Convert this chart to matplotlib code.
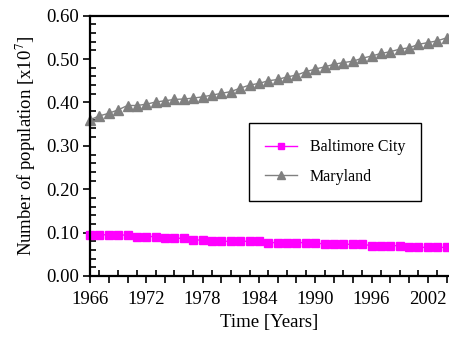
import matplotlib
matplotlib.use("Agg")
import matplotlib.pyplot as plt
import numpy as np
from matplotlib.ticker import MultipleLocator, FuncFormatter

plt.rcParams['font.family'] = ['Liberation Serif', 'DejaVu Serif']
plt.rcParams['mathtext.fontset'] = 'stix'

# Years 1966 .. 2004
years = np.arange(1966, 2005)

# Population in units of 10^7
baltimore = [0.095, 0.095, 0.095, 0.095, 0.094,
             0.091, 0.091, 0.091,
             0.087, 0.087, 0.087,
             0.083, 0.083,
             0.080, 0.080, 0.080, 0.080, 0.080, 0.080,
             0.077, 0.077, 0.077, 0.077, 0.077, 0.077,
             0.073, 0.073, 0.073, 0.073, 0.073,
             0.070, 0.070, 0.070, 0.070,
             0.066, 0.066, 0.066, 0.066, 0.066]
maryland = [0.360, 0.369, 0.375, 0.383, 0.393, 0.393, 0.396, 0.401, 0.404,
            0.407, 0.408, 0.410, 0.413, 0.417, 0.421, 0.425, 0.433, 0.440,
            0.444, 0.450, 0.453, 0.459, 0.463, 0.471, 0.477, 0.482, 0.488,
            0.492, 0.495, 0.502, 0.507, 0.513, 0.517, 0.523, 0.526, 0.534,
            0.538, 0.542, 0.549]

fig = plt.figure(figsize=(4.49, 3.45), dpi=100)
ax = fig.add_axes([0.2004, 0.2, 0.7996, 0.7545])

ax.plot(years, baltimore, color='#ff00ff', marker='s', markersize=6,
        linewidth=1, label='Baltimore City', clip_on=False)
ax.plot(years, maryland, color='#808080', marker='^', markersize=7,
        linewidth=1, label='Maryland', clip_on=False)

ax.set_xlim(1966, 2004.25)
ax.set_ylim(0, 0.6)

# x ticks: outward every 2 years, inward in between, labels every 6 years
ax.xaxis.set_major_locator(MultipleLocator(2))
ax.xaxis.set_minor_locator(MultipleLocator(1))
ax.xaxis.set_major_formatter(FuncFormatter(
    lambda v, p: f"{int(round(v))}" if int(round(v) - 1966) % 6 == 0 else ""))
ax.yaxis.set_major_locator(MultipleLocator(0.1))
ax.yaxis.set_minor_locator(MultipleLocator(0.02))
ax.yaxis.set_major_formatter(FuncFormatter(lambda v, p: f"{v:.2f}"))

ax.tick_params(axis='x', which='major', direction='out', length=5, width=1.2,
               labelsize=13.5, pad=6)
ax.tick_params(axis='x', which='minor', direction='in', length=4, width=1.2)
ax.tick_params(axis='y', which='major', direction='out', length=5, width=1.2,
               labelsize=13.5, pad=3)
ax.tick_params(axis='y', which='minor', direction='in', length=4, width=1.2)

for side in ['left', 'bottom', 'top']:
    ax.spines[side].set_linewidth(1.6)
ax.spines['right'].set_visible(False)

ax.set_xlabel('Time [Years]', fontsize=13.5, labelpad=4)
ax.set_ylabel(r'Number of population [x10$^{7}$]', fontsize=13.5, labelpad=6)

leg = ax.legend(loc='upper left', bbox_to_anchor=(0.443, 0.587), fontsize=11.5,
                frameon=True, fancybox=False, framealpha=1, edgecolor='black',
                handlelength=2.0, borderpad=1.0, labelspacing=0.85,
                borderaxespad=0, markerscale=0.8)
leg.get_frame().set_linewidth(1.0)

fig.savefig('out.png', dpi=100)
